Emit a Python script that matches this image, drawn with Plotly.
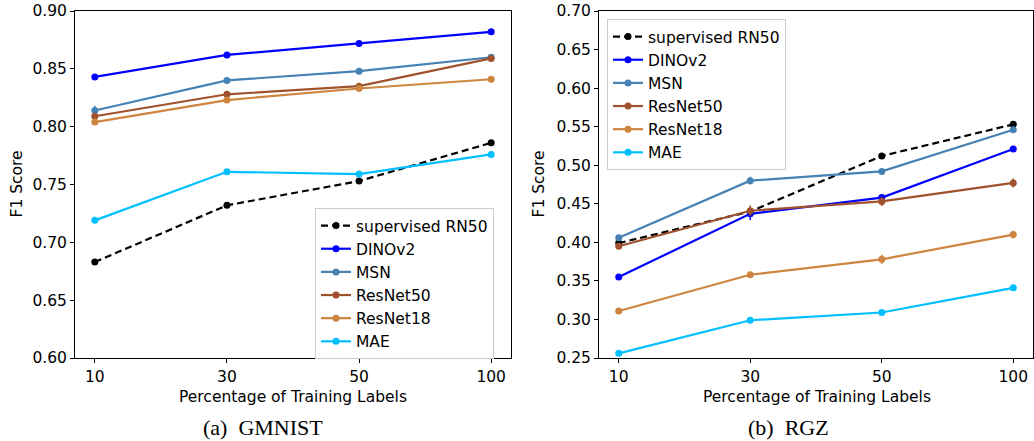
import plotly.graph_objects as go

# ---------------- data ----------------
x_labels = ["10", "30", "50", "100"]
series_names = ["supervised RN50", "DINOv2", "MSN", "ResNet50", "ResNet18", "MAE"]
series_colors = ["#000000", "#0000FF", "#4682B4", "#A0522D", "#CD853F", "#00BFFF"]

# GMNIST
gm_supervised = [0.683, 0.732, 0.753, 0.786]
gm_dinov2 = [0.843, 0.862, 0.872, 0.882]
gm_msn = [0.814, 0.840, 0.848, 0.860]
gm_resnet50 = [0.809, 0.828, 0.835, 0.859]
gm_resnet18 = [0.804, 0.823, 0.833, 0.841]
gm_mae = [0.719, 0.761, 0.759, 0.776]

gm_dinov2_err = [0.001, 0.001, 0.001, 0.001]
gm_msn_err = [0.004, 0.001, 0.001, 0.001]
gm_resnet50_err = [0.001, 0.001, 0.002, 0.001]
gm_resnet18_err = [0.001, 0.001, 0.001, 0.001]
gm_mae_err = [0.001, 0.002, 0.001, 0.001]

# RGZ
rgz_supervised = [0.399, 0.440, 0.512, 0.553]
rgz_dinov2 = [0.355, 0.437, 0.458, 0.521]
rgz_msn = [0.406, 0.480, 0.492, 0.546]
rgz_resnet50 = [0.395, 0.441, 0.453, 0.477]
rgz_resnet18 = [0.311, 0.358, 0.378, 0.410]
rgz_mae = [0.256, 0.299, 0.309, 0.341]

rgz_dinov2_err = [0.002, 0.008, 0.003, 0.002]
rgz_msn_err = [0.002, 0.005, 0.002, 0.003]
rgz_resnet50_err = [0.004, 0.007, 0.006, 0.006]
rgz_resnet18_err = [0.002, 0.002, 0.006, 0.005]
rgz_mae_err = [0.001, 0.002, 0.002, 0.002]

gm_values = [gm_supervised, gm_dinov2, gm_msn, gm_resnet50, gm_resnet18, gm_mae]
gm_errors = [None, gm_dinov2_err, gm_msn_err, gm_resnet50_err, gm_resnet18_err, gm_mae_err]
rgz_values = [rgz_supervised, rgz_dinov2, rgz_msn, rgz_resnet50, rgz_resnet18, rgz_mae]
rgz_errors = [None, rgz_dinov2_err, rgz_msn_err, rgz_resnet50_err, rgz_resnet18_err, rgz_mae_err]

x_pos = list(range(len(x_labels)))

FONT = "DejaVu Sans"
FS = 15.5

fig = go.Figure()


def add_panel(values, errors, xaxis, yaxis, legend):
    for name, color, vals, err in zip(series_names, series_colors, values, errors):
        kw = {}
        if err is None:
            line = dict(color=color, width=2.2, dash="7px,4px")
        else:
            line = dict(color=color, width=2.2)
            kw["error_y"] = dict(type="data", array=err, visible=True,
                                 color=color, thickness=1.5, width=0)
        fig.add_trace(go.Scatter(
            x=x_pos, y=vals, name=name, mode="lines+markers",
            line=line, marker=dict(color=color, size=7, symbol="circle"),
            xaxis=xaxis, yaxis=yaxis, legend=legend, **kw))


add_panel(gm_values, gm_errors, "x", "y", "legend")
add_panel(rgz_values, rgz_errors, "x2", "y2", "legend2")

W, H = 1034, 441


def px(x):
    return x / W


def py(y):
    return 1 - y / H


y_dom = [py(358), py(11)]

axis_common = dict(showline=True, linecolor="black", linewidth=1, mirror=True,
                   ticks="outside", ticklen=4, tickwidth=1, tickcolor="black",
                   showgrid=False, zeroline=False, automargin=False,
                   tickfont=dict(family=FONT, size=FS, color="black"))

fig.update_layout(
    width=W, height=H,
    margin=dict(l=0, r=0, t=0, b=0, pad=0, autoexpand=False),
    paper_bgcolor="white", plot_bgcolor="white",
    font=dict(family=FONT, size=FS, color="black"),
    xaxis=dict(domain=[px(75), px(511)], range=[-0.15, 3.15],
               tickvals=x_pos, ticktext=x_labels, anchor="y", **axis_common),
    yaxis=dict(domain=y_dom, range=[0.60, 0.90], dtick=0.05, tickformat=".2f",
               anchor="x", **axis_common),
    xaxis2=dict(domain=[px(599), px(1033)], range=[-0.15, 3.15],
                tickvals=x_pos, ticktext=x_labels, anchor="y2", **axis_common),
    yaxis2=dict(domain=y_dom, range=[0.25, 0.70], dtick=0.05, tickformat=".2f",
                anchor="x2", **axis_common),
    legend=dict(x=px(315), y=py(208), xanchor="left", yanchor="top",
                bgcolor="rgba(255,255,255,0.8)", bordercolor="#cccccc", borderwidth=1,
                font=dict(family=FONT, size=FS, color="black")),
    legend2=dict(x=px(607), y=py(19), xanchor="left", yanchor="top",
                 bgcolor="rgba(255,255,255,0.8)", bordercolor="#cccccc", borderwidth=1,
                 font=dict(family=FONT, size=FS, color="black")),
    showlegend=True,
)

annots = [
    dict(text="Percentage of Training Labels", x=px(293), y=py(397)),
    dict(text="Percentage of Training Labels", x=px(817), y=py(397)),
    dict(text="F1 Score", x=px(16), y=py(184.5), textangle=-90),
    dict(text="F1 Score", x=px(538), y=py(184.5), textangle=-90),
]
for a in annots:
    fig.add_annotation(xref="paper", yref="paper", showarrow=False,
                       xanchor="center", yanchor="middle",
                       font=dict(family=FONT, size=FS, color="black"), **a)

for txt, xc in [("(a)  GMNIST", 263), ("(b)  RGZ", 788)]:
    fig.add_annotation(text=txt, x=px(xc), y=py(427), xref="paper", yref="paper",
                       showarrow=False, xanchor="center", yanchor="middle",
                       font=dict(family="Liberation Serif", size=22, color="black"))

fig.write_html(
    "out.html",
    config={"displayModeBar": False},
    post_script=("document.documentElement.style.margin='0';"
                 "document.documentElement.style.padding='0';"
                 "document.documentElement.style.overflow='hidden';"
                 "document.body.style.margin='0';"
                 "document.body.style.padding='0';"
                 "document.body.style.overflow='hidden';"),
)
